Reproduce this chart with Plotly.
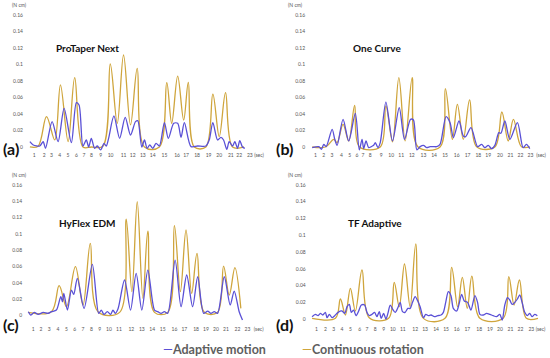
import plotly.graph_objects as go

# ---------------- data ----------------
TIME_LABELS = [str(i) for i in range(1, 24)]
TIME_UNIT = "(sec)"
# positions of the time labels along each panel's axis (the labels are unevenly spaced in the source)
a_label_pos = [1.03, 2.05, 2.8, 3.64, 4.48, 5.33, 6.11, 6.86, 7.8, 8.81, 10.13, 11.07, 12.09, 13.1, 14.29,
               15.58, 16.49, 17.61, 18.78, 19.87, 21.05, 21.9, 22.98, 23.92]
b_label_pos = [0.97, 1.82, 2.67, 3.63, 4.48, 5.23, 5.84, 6.6, 7.73, 8.75, 9.77, 10.86, 12.06, 13.15, 14.28,
               15.47, 16.59, 17.69, 18.71, 19.91, 20.99, 22.02, 23.04, 24.14]
c_label_pos = [1.03, 1.82, 2.67, 3.59, 4.45, 5.3, 6.15, 7.01, 7.86, 8.81, 9.84, 11.11, 12.19, 13.25, 14.34,
               15.54, 16.56, 17.76, 18.78, 19.81, 20.83, 22.02, 23.04, 24.19]
d_label_pos = [1.0, 1.92, 2.77, 3.61, 4.47, 5.42, 6.16, 7.02, 7.87, 8.82, 9.84, 11.1, 12.12, 13.24, 14.27,
               15.35, 16.44, 17.66, 18.76, 19.78, 20.86, 21.88, 23.0, 23.94]
TORQUE_TICKS = [0, 0.02, 0.04, 0.06, 0.08, 0.1, 0.12, 0.14, 0.16]
TORQUE_LABELS = ["0", "0.02", "0.04", "0.06", "0.08", "0.1", "0.12", "0.14", "0.16"]
TORQUE_UNIT = "(N cm)"
PANEL_TITLES = ["ProTaper Next", "One Curve", "HyFlex EDM", "TF Adaptive"]
PANEL_LETTERS = ["(a)", "(b)", "(c)", "(d)"]
SERIES_NAMES = ["Adaptive motion", "Continuous rotation"]

# (a) ProTaper Next
a_cont_t = [0.6, 1.44, 2.29, 3.13, 3.71, 4.49, 5.16, 6.0, 6.85, 8.03, 8.78, 9.49, 10.13, 10.84, 11.52,
            12.26, 13.78, 14.53, 15.03, 15.64, 16.25, 16.72, 17.33, 18.51, 19.22, 19.87, 20.51, 21.22, 22.4]
a_cont_v = [0, 0.001, 0.0368, 0.0085, 0.0752, 0.0065, 0.084, 0.0, 0, 0.001, 0.1006, 0.0287, 0.1115, 0.0267, 0.0954,
            0, 0, 0.078, 0.0287, 0.086, 0.0327, 0.0784, 0, 0, 0.0642, 0.0125, 0.0659, 0, 0]
a_adapt_t = [0.6, 0.94, 1.61, 1.95, 2.19, 2.86, 3.47, 4.08, 4.82, 5.33, 5.6, 6.0, 6.34, 6.58, 6.85, 7.19, 7.46,
             7.8, 8.14, 8.37, 8.61, 9.15, 9.73, 10.3, 10.84, 11.35, 11.58, 11.99, 12.26, 12.53, 12.8, 13.11,
             13.44, 13.78, 14.29, 14.69, 15.24, 15.64, 15.98, 16.32, 17.0, 17.67, 18.51, 18.85, 19.22, 19.7,
             20.04, 20.31, 20.64, 20.88, 21.22, 21.46, 21.73, 21.96, 22.23, 22.47]
a_adapt_v = [0.0065, 0.0024, 0.0012, 0.0065, -0.0016, 0.0307, 0.0065, 0.0469, 0.0053, 0.0537, 0.0509, 0.0012,
             0.0085, 0, 0.0105, -0.0016, 0.0012, -0.0036, 0.0044, 0.0012, 0.0105, 0.0376, 0.0105, 0.036, 0.0145,
             0.0307, 0.0319, 0, 0.0085, -0.0016, 0.0024, -0.0016, 0.0044, 0.0012, 0.0295, 0.0105, 0.0287, 0.0287,
             0.0117, 0.0295, 0.0004, 0.0012, 0.0012, 0.0085, 0.0295, 0.0085, 0.0117, 0.0085, -0.0028, 0.0065,
             0.0012, 0.0065, -0.0016, 0.0077, 0, -0.0016]

# (b) One Curve
b_cont_t = [0.63, 1.99, 2.85, 3.19, 3.8, 4.38, 4.99, 5.47, 7.62, 8.2, 8.88, 9.53, 10.18, 10.9, 11.48, 13.76,
            14.31, 15.03, 15.54, 16.15, 16.8, 17.52, 19.39, 20.11, 20.76, 21.3, 22.12, 22.98]
b_cont_v = [0, 0, 0.0093, 0.0053, 0.0275, 0.0073, 0.0505, 0.0004, 0, 0.0497, 0.0061, 0.084, 0.0073, 0.084,
            0.0004, 0, 0.0707, 0.0093, 0.0517, 0.0093, 0.057, 0.0004, 0, 0.0424, 0.0073, 0.0335, 0.0004, 0]
b_adapt_t = [0.63, 1.31, 1.58, 1.82, 2.06, 2.68, 2.95, 3.19, 3.8, 4.38, 5.06, 5.47, 5.75, 5.92, 6.16, 6.43,
             6.7, 6.94, 7.11, 7.38, 7.62, 8.2, 8.88, 9.57, 10.11, 10.73, 11.03, 11.38, 11.72, 12.06, 12.4,
             12.74, 13.08, 13.42, 13.76, 14.38, 14.79, 15.13, 15.71, 16.15, 16.39, 16.94, 17.62, 18.03, 18.37,
             18.71, 19.05, 19.39, 19.8, 20.01, 20.42, 20.93, 21.71, 22.29, 22.63, 22.98]
b_adapt_v = [-0.0008, 0.0004, -0.0028, 0.0032, 0.0004, 0.0214, 0.0093, 0.002, 0.0335, 0.0073, 0.0408, -0.0036,
             0.0093, -0.002, 0.0073, -0.0008, 0.0004, 0.002, 0.0053, -0.0008, 0.0053, 0.0545, 0.0073, 0.0477,
             0.0093, 0.0335, 0.0327, -0.0036, 0.0004, 0.002, -0.0008, 0.0004, 0.0004, 0.0004, 0.0032, 0.0368,
             0.0295, 0.0113, 0.0315, 0.0133, 0.0125, 0.0234, 0.0004, 0.0032, -0.0008, 0.002, -0.002, 0.002,
             0.0174, 0.0166, 0.0315, 0.0093, 0.0295, -0.0008, 0.0032, -0.002]

# (c) HyFlex EDM
c_cont_t = [0.53, 2.91, 3.7, 4.45, 5.37, 6.15, 6.9, 7.69, 9.91, 10.59, 11.17, 11.72, 12.3, 12.81, 13.49,
            14.85, 15.54, 16.15, 16.73, 17.31, 17.86, 18.61, 19.97, 20.59, 21.17, 21.75, 22.36]
c_cont_v = [0.0041, 0.0049, 0.0367, 0.011, 0.06, 0.0131, 0.0885, 0.0049, 0.0041, 0.1183, 0.0294, 0.1395,
            0.0212, 0.1036, 0.0041, 0.0041, 0.1102, 0.0294, 0.1049, 0.0273, 0.0763, 0.0041, 0.0041, 0.0608,
            0.0253, 0.0588, 0.009]
c_adapt_t = [0.53, 0.8, 1.14, 1.55, 2.06, 2.57, 2.91, 3.42, 3.87, 4.04, 4.18, 4.55, 4.96, 5.2, 5.57, 6.26,
             7.11, 7.76, 8.03, 8.3, 8.65, 8.99, 9.23, 9.46, 9.74, 10.42, 11.03, 11.61, 12.19, 12.81, 13.49,
             13.83, 14.17, 14.51, 14.85, 15.61, 16.22, 16.8, 17.41, 17.93, 18.54, 18.95, 19.29, 19.63, 19.97,
             20.66, 21.27, 21.68, 22.19, 22.53]
c_adapt_v = [0.0049, 0.0008, 0.0041, 0.0016, 0.0041, 0.0029, 0.0049, 0.0069, 0.0233, 0.0171, 0.0273, 0.0069,
             0.0314, 0.0261, 0.0457, 0.009, 0.0628, 0.0029, 0.0069, 0.0016, 0.0049, 0.0016, 0.0069, 0.0029,
             0.0082, 0.0437, 0.0069, 0.0518, 0.0069, 0.0559, 0.0069, 0.0049, 0.0029, 0.0049, 0.0029, 0.0681,
             0.011, 0.0498, 0.011, 0.0477, 0.0029, 0.0057, 0.0029, 0.0049, 0.0029, 0.0477, 0.0131, 0.0302,
             0.0049, -0.0053]

# (d) TF Adaptive
d_cont_t = [0.55, 2.94, 3.45, 3.96, 4.47, 4.98, 5.66, 6.4, 8.38, 8.96, 9.47, 10.01, 10.59, 11.17, 11.95,
            14.16, 14.84, 15.45, 15.93, 16.44, 16.91, 17.73, 20.11, 20.69, 21.23, 21.78, 22.49, 23.68]
d_cont_v = [0.0008, 0.0008, 0.0239, 0.0048, 0.0366, 0.0096, 0.0585, 0.0016, 0.0008, 0.0438, 0.0147, 0.0657,
            0.0147, 0.0896, 0.0008, 0.0008, 0.0617, 0.0147, 0.0498, 0.0127, 0.0513, 0.0008, 0.0008, 0.0505,
            0.0167, 0.0466, 0.0008, 0.0008]
d_adapt_t = [0.55, 0.89, 1.17, 1.4, 1.64, 1.91, 2.08, 2.32, 2.6, 2.87, 3.21, 3.61, 3.89, 4.13, 4.36, 4.57,
             4.81, 5.04, 5.32, 5.59, 5.93, 6.17, 6.4, 6.68, 6.95, 7.19, 7.43, 7.63, 7.87, 8.11, 8.31, 8.55,
             8.79, 9.06, 9.33, 9.57, 9.81, 10.08, 10.35, 10.59, 10.83, 11.1, 11.37, 11.61, 11.95, 12.19,
             12.46, 12.73, 13.07, 13.41, 13.75, 13.99, 14.23, 14.5, 14.77, 15.01, 15.35, 15.59, 15.86, 16.13,
             16.47, 16.81, 17.22, 17.49, 17.73, 18.07, 18.41, 18.75, 19.09, 19.43, 19.77, 20.01, 20.28,
             20.55, 20.79, 21.03, 21.3, 21.57, 21.81, 22.05, 22.32, 22.59, 22.83, 23.07, 23.34, 23.61]
d_adapt_v = [0.0028, 0.0056, 0.004, 0.0068, 0.0048, 0.008, 0.0016, 0.0056, 0.0016, 0.004, 0.008, 0.0096,
             0.0068, 0.0147, 0.0175, 0.008, 0.0107, 0.004, 0.0096, 0.0167, 0.0167, 0.008, 0.004, 0.0056, 0.008,
             0.0028, 0.0088, 0.0008, 0.0068, 0, 0.0068, 0.0167, 0.0119, 0.008, 0.0135, 0.0199, 0.0088, 0.008,
             0.0127, 0.0127, 0.0199, 0.0267, 0.0215, 0.0147, 0.0016, 0.0056, 0.004, 0.0048, 0.0028, 0.004,
             0.0048, 0.008, 0.0199, 0.0326, 0.0279, 0.0127, 0.0096, 0.0175, 0.0295, 0.0215, 0.0199, 0.0107,
             0.0279, 0.0199, 0.0056, 0.0048, 0.0068, 0.0056, 0.004, 0.0028, 0.0056, -0.0012, 0.0167, 0.0255,
             0.0227, 0.0175, 0.0199, 0.0239, 0.0287, 0.0199, 0.008, 0.004, 0.0068, 0.0028, 0.0056, 0.004]

# ---------------- layout ----------------
W, H = 550, 358
BLUE = "#5a50d6"
GOLD = "#cfa53c"
TXT = "#555555"

panels = [
    dict(cont=(a_cont_t, a_cont_v), adapt=(a_adapt_t, a_adapt_v), ticks=a_label_pos,
         xd=[0.0438, 0.4831], yd=[0.5779, 0.9696], yr=[-0.005, 0.165],
         title=(88, 48), letter=(11, 148), unit=(20, 5)),
    dict(cont=(b_cont_t, b_cont_v), adapt=(b_adapt_t, b_adapt_v), ticks=b_label_pos,
         xd=[0.5585, 0.9938], yd=[0.5779, 0.9696], yr=[-0.005, 0.165],
         title=(378, 48), letter=(286, 149), unit=(297, 5)),
    dict(cont=(c_cont_t, c_cont_v), adapt=(c_adapt_t, c_adapt_v), ticks=c_label_pos,
         xd=[0.0422, 0.4775], yd=[0.0919, 0.4947], yr=[-0.0115, 0.165],
         title=(88, 223), letter=(11, 324), unit=(20, 175)),
    dict(cont=(d_cont_t, d_cont_v), adapt=(d_adapt_t, d_adapt_v), ticks=d_label_pos,
         xd=[0.5597, 0.9964], yd=[0.0913, 0.495], yr=[-0.0075, 0.165],
         title=(376, 223), letter=(286, 324), unit=(297, 175)),
]

fig = go.Figure()
annotations = []
layout_axes = {}
for i, p in enumerate(panels):
    n = "" if i == 0 else str(i + 1)
    xa, ya = "x" + n, "y" + n
    fig.add_trace(go.Scatter(x=p["cont"][0], y=p["cont"][1], xaxis=xa, yaxis=ya, mode="lines",
                             name=SERIES_NAMES[1], line=dict(color=GOLD, width=1.3, shape="spline", smoothing=1.0),
                             showlegend=False))
    fig.add_trace(go.Scatter(x=p["adapt"][0], y=p["adapt"][1], xaxis=xa, yaxis=ya, mode="lines",
                             name=SERIES_NAMES[0], line=dict(color=BLUE, width=1.3, shape="spline", smoothing=0.8),
                             showlegend=False))
    layout_axes["xaxis" + n] = dict(domain=p["xd"], range=[0, 24.5], anchor=ya, showgrid=False, zeroline=False,
                                    showline=False, ticks="", tickvals=p["ticks"],
                                    ticktext=TIME_LABELS + [TIME_UNIT],
                                    tickfont=dict(size=5, color=TXT, family="Lato"), tickangle=0)
    layout_axes["yaxis" + n] = dict(domain=p["yd"], range=p["yr"], anchor=xa, showgrid=False, zeroline=False,
                                    showline=False, ticks="", tickvals=TORQUE_TICKS, ticktext=TORQUE_LABELS,
                                    tickfont=dict(size=5, color=TXT, family="Lato"))
    tx, ty = p["title"]
    annotations.append(dict(text="<b>" + PANEL_TITLES[i] + "</b>", x=tx / W, y=1 - ty / H, xref="paper", yref="paper",
                            showarrow=False, xanchor="center", yanchor="middle",
                            font=dict(size=10, color="#111111", family="Lato")))
    lx, ly = p["letter"]
    annotations.append(dict(text="<b>" + PANEL_LETTERS[i] + "</b>", x=lx / W, y=1 - ly / H, xref="paper", yref="paper",
                            showarrow=False, xanchor="center", yanchor="middle",
                            font=dict(size=16, color="#111111", family="Lato")))
    ux, uy = p["unit"]
    annotations.append(dict(text=TORQUE_UNIT, x=ux / W, y=1 - uy / H, xref="paper", yref="paper",
                            showarrow=False, xanchor="center", yanchor="middle",
                            font=dict(size=5, color=TXT, family="Lato")))

annotations.append(dict(text="<span style='color:%s'>—</span><b>%s</b>" % (BLUE, SERIES_NAMES[0]), x=162 / W,
                        y=1 - 349 / H, xref="paper", yref="paper", showarrow=False, xanchor="left",
                        yanchor="middle", font=dict(size=12.5, color="#5e5e5e", family="Lato")))
annotations.append(dict(text="<span style='color:%s'>—</span><b>%s</b>" % (GOLD, SERIES_NAMES[1]), x=301 / W,
                        y=1 - 349 / H, xref="paper", yref="paper", showarrow=False, xanchor="left",
                        yanchor="middle", font=dict(size=12.5, color="#5e5e5e", family="Lato")))

fig.update_layout(width=W, height=H, margin=dict(l=0, r=0, t=0, b=0), paper_bgcolor="white",
                  plot_bgcolor="white", annotations=annotations, showlegend=False, **layout_axes)
fig.write_html("out.html", config={"displayModeBar": False},
               post_script="document.body.style.margin='0';document.body.style.overflow='hidden';")
